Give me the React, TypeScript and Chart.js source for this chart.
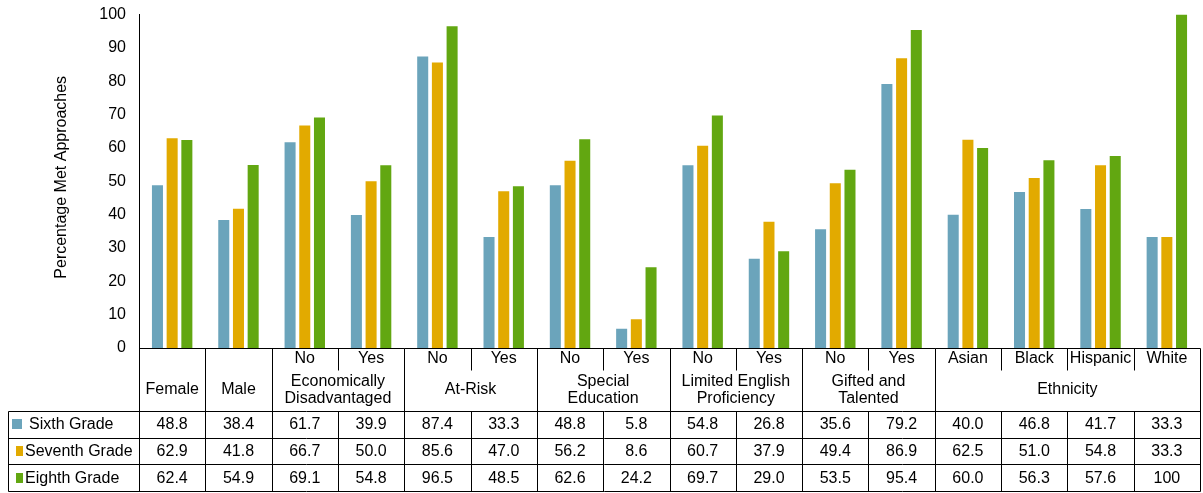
import React, { useEffect, useRef } from "react";
import { Chart, registerables } from "chart.js";

Chart.register(...registerables);

const FONT = '"Liberation Sans", Arial, Helvetica, sans-serif';

// Column sub-labels (top header row) and the grouped labels beneath them
const subLabels = ["", "", "No", "Yes", "No", "Yes", "No", "Yes", "No", "Yes", "No", "Yes", "Asian", "Black", "Hispanic", "White"];
const groupLabels = [
  ["Female"],
  ["Male"],
  ["Economically", "Disadvantaged"],
  ["At-Risk"],
  ["Special", "Education"],
  ["Limited English", "Proficiency"],
  ["Gifted and", "Talented"],
  ["Ethnicity"],
];
const groupSpans = [1, 1, 2, 2, 2, 2, 2, 4];

const seriesNames = ["Sixth Grade", "Seventh Grade", "Eighth Grade"];
const sixthGrade = [48.8, 38.4, 61.7, 39.9, 87.4, 33.3, 48.8, 5.8, 54.8, 26.8, 35.6, 79.2, 40.0, 46.8, 41.7, 33.3];
const seventhGrade = [62.9, 41.8, 66.7, 50.0, 85.6, 47.0, 56.2, 8.6, 60.7, 37.9, 49.4, 86.9, 62.5, 51.0, 54.8, 33.3];
const eighthGrade = [62.4, 54.9, 69.1, 54.8, 96.5, 48.5, 62.6, 24.2, 69.7, 29.0, 53.5, 95.4, 60.0, 56.3, 57.6, 100];
const seriesColors = ["#6BA4BB", "#E2AA00", "#62A711"];

const yAxisTitle = "Percentage Met Approaches";
const yMin = 0;
const yMax = 100;
const yStep = 10;

const fmt = (v: number) => (v === 100 ? "100" : v.toFixed(1));

// Table geometry below the plot
const HEADER_H = 63;
const SUB_H = 22;
const ROW_H = 26.67;
const TABLE_LEFT = 8;
const KEY_X = [12, 16, 16];
const KEY_W = [10, 7, 7];
const TEXT_X = [29, 25, 25];

const dataTablePlugin = {
  id: "dataTable",
  afterDraw(chart: any) {
    const { ctx, chartArea } = chart;
    const xs = chart.scales.x;
    const n = subLabels.length;
    const colW = (chartArea.right - chartArea.left) / n;
    const edge = (i: number) => (i < n ? xs.getPixelForValue(i) - colW / 2 : xs.getPixelForValue(n - 1) + colW / 2);
    const px = (v: number) => Math.round(v) + 0.5;

    const top = chartArea.bottom;
    const headBottom = top + HEADER_H;
    const rowTops = [0, 1, 2, 3].map((k) => headBottom + k * ROW_H);
    const right = edge(n);

    ctx.save();
    ctx.strokeStyle = "#000";
    ctx.lineWidth = 1;
    const line = (x0: number, y0: number, x1: number, y1: number) => {
      ctx.beginPath();
      ctx.moveTo(x0, y0);
      ctx.lineTo(x1, y1);
      ctx.stroke();
    };

    // horizontal rules
    line(px(chartArea.left), px(top), px(right), px(top));
    rowTops.forEach((y) => line(px(TABLE_LEFT), px(y), px(right), px(y)));
    line(px(TABLE_LEFT), px(headBottom), px(TABLE_LEFT), px(rowTops[3]));

    // vertical rules
    const groupEdges = new Set<number>();
    let acc = 0;
    groupEdges.add(0);
    groupSpans.forEach((s) => {
      acc += s;
      groupEdges.add(acc);
    });
    for (let i = 0; i <= n; i++) {
      const x = px(edge(i));
      if (groupEdges.has(i)) {
        line(x, px(top), x, px(rowTops[3]));
      } else {
        line(x, px(top), x, px(top + SUB_H));
        line(x, px(headBottom), x, px(rowTops[3]));
      }
    }

    ctx.fillStyle = "#000";
    ctx.font = `16px ${FONT}`;
    ctx.textAlign = "center";
    ctx.textBaseline = "middle";

    // header labels
    subLabels.forEach((s, i) => {
      if (s) ctx.fillText(s, (edge(i) + edge(i + 1)) / 2, top + 11);
    });
    let start = 0;
    groupLabels.forEach((lines, g) => {
      const cx = (edge(start) + edge(start + groupSpans[g])) / 2;
      const cy = top + 42;
      const lh = 17.5;
      lines.forEach((t, k) => {
        ctx.fillText(t, cx, cy + (k - (lines.length - 1) / 2) * lh);
      });
      start += groupSpans[g];
    });

    // value rows with legend keys
    chart.data.datasets.forEach((ds: any, r: number) => {
      const cy = rowTops[r] + ROW_H / 2;
      ctx.fillStyle = seriesColors[r];
      ctx.fillRect(KEY_X[r], Math.round(cy - 5), KEY_W[r], 10);
      ctx.fillStyle = "#000";
      ctx.textAlign = "left";
      ctx.fillText(ds.label, TEXT_X[r], cy + 0.5);
      ctx.textAlign = "center";
      ds.data.forEach((v: number, i: number) => {
        ctx.fillText(fmt(v), (edge(i) + edge(i + 1)) / 2, cy + 0.5);
      });
    });

    // rotated axis title
    ctx.save();
    ctx.translate(62, (chartArea.top + chartArea.bottom) / 2 - 4);
    ctx.rotate(-Math.PI / 2);
    ctx.textAlign = "center";
    ctx.textBaseline = "middle";
    ctx.fillText(yAxisTitle, 0, 0);
    ctx.restore();

    ctx.restore();
  },
};

export default function App() {
  const canvasRef = useRef<HTMLCanvasElement | null>(null);

  useEffect(() => {
    if (!canvasRef.current) return;
    const seriesData = [sixthGrade, seventhGrade, eighthGrade];
    const chart = new Chart(canvasRef.current, {
      type: "bar",
      data: {
        labels: subLabels.map((s, i) => s || groupLabels[i][0]),
        datasets: seriesNames.map((name, k) => ({
          label: name,
          data: seriesData[k],
          backgroundColor: seriesColors[k],
          borderWidth: 0,
          categoryPercentage: 0.665,
          barPercentage: 0.75,
        })),
      },
      options: {
        responsive: false,
        animation: false,
        devicePixelRatio: 1,
        layout: { padding: { left: 0, top: 10, right: 3, bottom: 145 } },
        plugins: {
          legend: { display: false },
          tooltip: { enabled: false },
        },
        scales: {
          x: { display: false },
          y: {
            min: yMin,
            max: yMax,
            afterFit: (s: any) => {
              s.width = 139;
            },
            ticks: {
              stepSize: yStep,
              color: "#000",
              padding: 5,
              font: { family: FONT, size: 16 },
            },
            grid: { display: false },
            border: { display: true, color: "#000", width: 1 },
          },
        },
      },
      plugins: [dataTablePlugin],
    });
    return () => chart.destroy();
  }, []);

  return (
    <div style={{ position: "absolute", left: 0, top: 0, width: 1203, height: 493, background: "#fff" }}>
      <canvas ref={canvasRef} width={1203} height={493} />
    </div>
  );
}
